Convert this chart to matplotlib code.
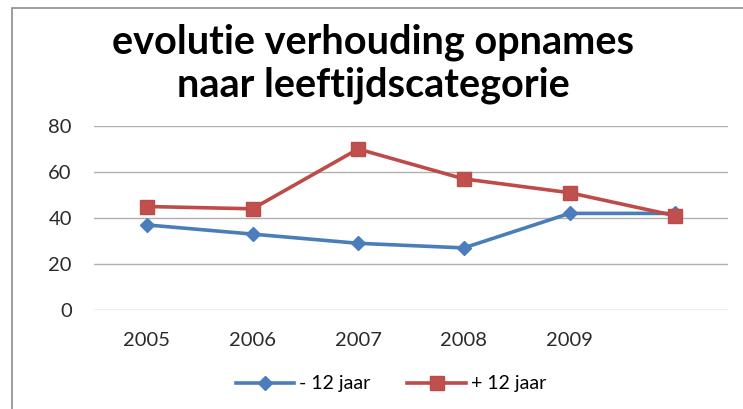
import matplotlib
matplotlib.use("Agg")
import matplotlib.pyplot as plt
from matplotlib.patches import Rectangle

categories = ["2005", "2006", "2007", "2008", "2009", ""]
minus12 = [37, 33, 29, 27, 42, 42]
plus12 = [45, 44, 70, 57, 51, 41]
yticks = [0, 20, 40, 60, 80]

W, H = 743, 409
fig = plt.figure(figsize=(W/100, H/100), dpi=100)
fig.patch.set_facecolor("white")

# chart border
fig.add_artist(Rectangle((12/W, -0.1), 1.2, 1.1 - 8/H, transform=fig.transFigure,
                         fill=False, edgecolor="#8c8c8c", linewidth=1.2))

x0, x1 = 94, 728
ytop, ybot = 126, 310
ax = fig.add_axes([x0/W, 1 - ybot/H, (x1-x0)/W, (ybot-ytop)/H])
x = list(range(len(categories)))
ax.plot(x, minus12, color="#4a7ebb", lw=2.6, marker="D", ms=7.5,
        markerfacecolor="#4a7ebb", markeredgecolor="#4a7ebb", label="- 12 jaar", zorder=3)
ax.plot(x, plus12, color="#be4b48", lw=2.6, marker="s", ms=10,
        markerfacecolor="#c0504d", markeredgecolor="#be4b48", label="+ 12 jaar", zorder=4)
ax.set_xlim(-0.5, len(categories) - 0.5)
ax.set_ylim(0, 80)
ax.set_yticks(yticks)
ax.set_yticklabels([str(v) for v in yticks], fontsize=14.5, family="Lato", color="#2a2a2a")
ax.set_xticks(x)
ax.set_xticklabels(categories, fontsize=14.5, family="Lato", color="#2a2a2a")
ax.tick_params(length=0)
ax.tick_params(axis="y", pad=16)
ax.tick_params(axis="x", pad=16)
ax.grid(axis="y", color="#b0b0b0", lw=1)
for s in ax.spines.values():
    s.set_visible(False)
ax.set_axisbelow(True)

fig.text(373/W, 1 - 64/H, "evolutie verhouding opnames\nnaar leeftijdscategorie",
         ha="center", va="center", fontsize=28.5, fontweight="bold", family="Lato",
         linespacing=1.2)

leg = fig.legend(loc="center", bbox_to_anchor=(391/W, 1 - 384/H), ncol=2, frameon=False,
                 prop={"family": "Lato", "size": 14}, handlelength=3.0, columnspacing=1.9,
                 handletextpad=0.25)

fig.savefig("out.png", dpi=100)
